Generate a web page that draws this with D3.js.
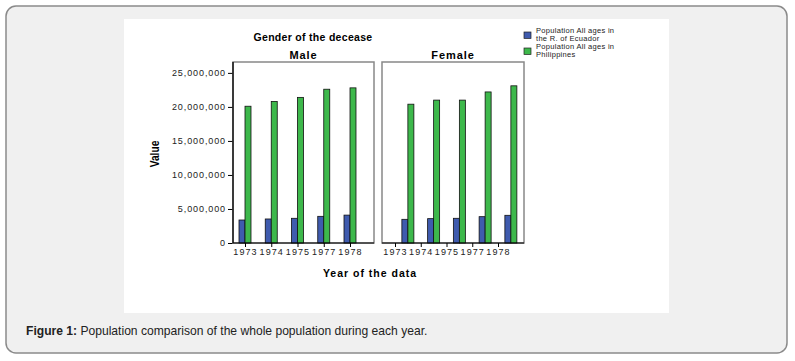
<!DOCTYPE html>
<html><head><meta charset="utf-8">
<script src="https://cdn.jsdelivr.net/npm/d3@7"></script>
<style>body{margin:0;background:#fff;}svg{display:block;}</style>
</head><body>
<svg id="c" width="795" height="361"></svg>
<script>
const years = ["1973","1974","1975","1977","1978"];
const panels = ["Male","Female"];
const ecuadorMale = [3380000,3530000,3630000,3920000,4100000];
const philMale = [20100000,20800000,21400000,22600000,22800000];
const ecuadorFemale = [3480000,3580000,3630000,3870000,4070000];
const philFemale = [20400000,21000000,21000000,22200000,23100000];
const yTicks = [0,5000000,10000000,15000000,20000000,25000000];
const legendLabels = [["Population All ages in","the R. of Ecuador"],["Population All ages in","Philippines"]];
const colors = ["#3F5BAE","#3DB84B"];

const svg = d3.select("#c");
svg.append("rect").attr("x",6).attr("y",6).attr("width",781).attr("height",347).attr("rx",10)
  .attr("fill","#f0f0f0").attr("stroke","#8a8a8a").attr("stroke-width",1.5);
svg.append("rect").attr("x",124).attr("y",19).attr("width",545).attr("height",294).attr("fill","#fff");

const font = "Liberation Sans, Arial, sans-serif";
svg.append("text").attr("x",313).attr("y",41).attr("text-anchor","middle")
  .attr("font-family",font).attr("font-weight","bold").attr("font-size",10.5).attr("letter-spacing",0.3)
  .text("Gender of the decease");

const y = d3.scaleLinear().domain([0,26600000]).range([243,62]);
const panelX = [[233,374],[382,524]];
const data = [[ecuadorMale,philMale],[ecuadorFemale,philFemale]];

svg.append("g").attr("transform","translate(233,0)")
  .call(d3.axisLeft(y).tickValues(yTicks).tickSize(5).tickFormat(d3.format(",")))
  .call(g=>{g.select(".domain").remove();
    g.selectAll("line").attr("stroke","#000");
    g.selectAll("text").attr("font-family",font).attr("font-size",9).attr("fill","#222").attr("letter-spacing",0.9).attr("dx",1);});

panels.forEach((p,i)=>{
  const [x0,x1] = panelX[i];
  const x = d3.scalePoint().domain(years).range(i===0?[245,350]:[395,498]);
  const step = x.step();
  const shift = i===0 ? 0 : step/2;
  svg.append("rect").attr("x",x0).attr("y",62).attr("width",x1-x0).attr("height",181)
    .attr("fill","#fff").attr("stroke","#888").attr("stroke-width",1.5);
  svg.append("text").attr("x",(x0+x1)/2).attr("y",59).attr("text-anchor","middle")
    .attr("font-family",font).attr("font-weight","bold").attr("font-size",11).attr("letter-spacing",0.9).text(p);
  const bw = 6;
  data[i].forEach((series,s)=>{
    svg.append("g").selectAll("rect").data(series).join("rect")
      .attr("x",(d,k)=>x(years[k])+shift-bw+s*bw)
      .attr("y",d=>y(d)).attr("width",bw).attr("height",d=>y(0)-y(d))
      .attr("fill",colors[s]).attr("stroke","#111").attr("stroke-width",0.8);
  });
  svg.append("g").attr("transform","translate(0,243)")
    .call(d3.axisBottom(x).tickSize(4).tickPadding(2))
    .call(g=>{g.select(".domain").remove();
      g.selectAll("line").attr("stroke","#000");
      g.selectAll("text").attr("font-family",font).attr("font-size",9).attr("fill","#222").attr("letter-spacing",1.1);});
});
svg.append("line").attr("x1",233).attr("x2",233).attr("y1",62).attr("y2",243).attr("stroke","#000").attr("stroke-width",1.3);
svg.append("line").attr("x1",233).attr("x2",374).attr("y1",243).attr("y2",243).attr("stroke","#000").attr("stroke-width",1.2);
svg.append("line").attr("x1",382).attr("x2",524).attr("y1",243).attr("y2",243).attr("stroke","#000").attr("stroke-width",1.2);

svg.append("text").attr("transform","translate(159,154) rotate(-90) scale(0.85,1)").attr("text-anchor","middle")
  .attr("font-family",font).attr("font-weight","bold").attr("font-size",12).text("Value");
svg.append("text").attr("x",370).attr("y",277).attr("text-anchor","middle")
  .attr("font-family",font).attr("font-weight","bold").attr("font-size",10.5).attr("letter-spacing",1)
  .text("Year of the data");

legendLabels.forEach((lines,i)=>{
  const g = svg.append("g").attr("transform",`translate(524,${32+i*16})`);
  g.append("rect").attr("width",7).attr("height",6.5).attr("fill",colors[i]).attr("stroke","#222").attr("stroke-width",0.7);
  lines.forEach((t,j)=>g.append("text").attr("x",12).attr("y",0.5+j*8)
    .attr("font-family",font).attr("font-size",7.5).attr("letter-spacing",0.3).attr("fill","#222").text(t));
});

const cap = svg.append("text").attr("x",26).attr("y",335).attr("font-family",font).attr("font-size",12.1).attr("fill","#222");
cap.append("tspan").attr("font-weight","bold").text("Figure 1:");
cap.append("tspan").text(" Population comparison of the whole population during each year.");
</script>
</body></html>
